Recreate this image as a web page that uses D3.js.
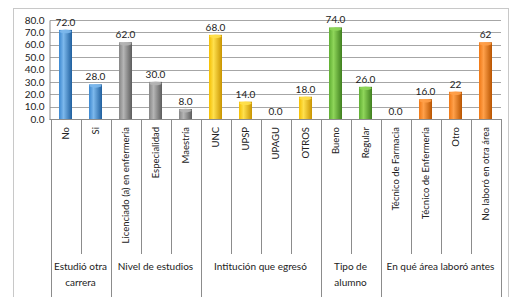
<!DOCTYPE html>
<html>
<head>
<meta charset="utf-8">
<script src="https://cdn.jsdelivr.net/npm/d3@7"></script>
<style>
  body { margin: 0; background: #fff; }
  svg { font-family: Lato, "Open Sans", sans-serif; }
</style>
</head>
<body>
<svg id="chart"></svg>
<script>
var width = 510;
var height = 297;

var categories = ["No", "Si", "Licenciado (a) en enfermería", "Especialidad", "Maestría",
  "UNC", "UPSP", "UPAGU", "OTROS", "Bueno", "Regular",
  "Técnico de Farmacia", "Técnico de Enfermería", "Otro", "No laboró en otra área"];
var values = [72, 28, 62, 30, 8, 68, 14, 0, 18, 74, 26, 0, 16, 22, 62];
var valueLabels = ["72.0", "28.0", "62.0", "30.0", "8.0", "68.0", "14.0", "0.0", "18.0",
  "74.0", "26.0", "0.0", "16.0", "22", "62"];
var groupNames = [["Estudió otra", "carrera"], ["Nivel de estudios"], ["Intitución que egresó"],
  ["Tipo de", "alumno"], ["En qué área laboró antes"]];
var groupSizes = [2, 3, 4, 2, 4];
var groupColors = [
  ["#7cb8ec", "#3b87d0", "#1f5f9e"],
  ["#b5b5b5", "#858585", "#5c5c5c"],
  ["#ffe04d", "#f5bf00", "#c99400"],
  ["#8fd65a", "#5fae32", "#3f7f1e"],
  ["#ffa04a", "#f07814", "#b85400"]
];
var yTicks = [0, 10, 20, 30, 40, 50, 60, 70, 80];

var svg = d3.select("#chart").attr("width", width).attr("height", height);

// group index per category
var groupOf = [];
groupSizes.forEach(function (n, g) {
  for (var i = 0; i < n; i++) groupOf.push(g);
});

var x = d3.scaleBand().domain(categories).range([50.5, 500.5]).padding(0);
var y = d3.scaleLinear().domain([0, 80]).range([119, 20]);

// gradients
var defs = svg.append("defs");
groupColors.forEach(function (c, g) {
  var grad = defs.append("linearGradient").attr("id", "grad" + g)
    .attr("x1", "0%").attr("x2", "100%").attr("y1", "0%").attr("y2", "0%");
  grad.append("stop").attr("offset", "0%").attr("stop-color", c[1]);
  grad.append("stop").attr("offset", "35%").attr("stop-color", c[0]);
  grad.append("stop").attr("offset", "100%").attr("stop-color", c[2]);
});

// outer border
svg.append("rect")
  .attr("x", 13.5).attr("y", 8.5)
  .attr("width", 495).attr("height", 300)
  .attr("fill", "none").attr("stroke", "#c8c8c8");

// gridlines
svg.selectAll(".grid").data(yTicks).enter().append("line")
  .attr("x1", 50).attr("x2", 501)
  .attr("y1", function (d) { return Math.round(y(d)) + 0.5; })
  .attr("y2", function (d) { return Math.round(y(d)) + 0.5; })
  .attr("stroke", "#a6a6a6").attr("stroke-width", 1);

// y axis
var yAxis = d3.axisLeft(y).tickValues(yTicks)
  .tickFormat(function (d) { return d3.format(".1f")(d); })
  .tickSize(0).tickPadding(5);
var yg = svg.append("g").attr("transform", "translate(49.5,0)").call(yAxis);
yg.select(".domain").attr("stroke", "#8c8c8c");
yg.selectAll("text").attr("font-size", 10).attr("fill", "#222")
  .attr("font-family", "Lato, sans-serif");

// x axis separators
var bounds = d3.range(categories.length + 1);
var groupEnds = [0];
groupSizes.reduce(function (acc, n) { groupEnds.push(acc + n); return acc + n; }, 0);
svg.selectAll(".sep").data(bounds).enter().append("line")
  .attr("x1", function (i) { return Math.round(x.range()[0] + i * x.step()) + 0.5; })
  .attr("x2", function (i) { return Math.round(x.range()[0] + i * x.step()) + 0.5; })
  .attr("y1", 119)
  .attr("y2", function (i) { return groupEnds.indexOf(i) >= 0 ? 297 : 254; })
  .attr("stroke", "#8c8c8c");
svg.append("line").attr("x1", 49.5).attr("x2", 501).attr("y1", 119.5).attr("y2", 119.5)
  .attr("stroke", "#8c8c8c");

// category labels
svg.selectAll(".cat").data(categories).enter().append("text")
  .attr("transform", function (d) {
    return "translate(" + (x(d) + x.bandwidth() / 2) + ",127) rotate(-90)";
  })
  .attr("text-anchor", "end").attr("dy", "0.35em")
  .attr("font-size", 9.5).attr("fill", "#222")
  .text(function (d) { return d; });

// group labels
groupNames.forEach(function (lines, g) {
  var x0 = x.range()[0] + groupEnds[g] * x.step();
  var x1 = x.range()[0] + groupEnds[g + 1] * x.step();
  lines.forEach(function (line, k) {
    svg.append("text")
      .attr("x", (x0 + x1) / 2).attr("y", 270 + k * 16)
      .attr("text-anchor", "middle").attr("font-size", 10).attr("fill", "#222")
      .text(line);
  });
});

// bars
var bw = 13;
var bars = svg.selectAll(".bar").data(values).enter().append("g");
bars.append("rect")
  .attr("x", function (d, i) { return x(categories[i]) + x.bandwidth() / 2 - bw / 2; })
  .attr("y", function (d) { return y(d); })
  .attr("width", bw)
  .attr("height", function (d) { return y(0) - y(d); })
  .attr("fill", function (d, i) { return "url(#grad" + groupOf[i] + ")"; })
  .attr("display", function (d) { return d > 0 ? null : "none"; });
bars.append("ellipse")
  .attr("cx", function (d, i) { return x(categories[i]) + x.bandwidth() / 2; })
  .attr("cy", function (d) { return y(d) + 1.5; })
  .attr("rx", bw / 2 - 0.5).attr("ry", 1.8)
  .attr("fill", function (d, i) { return groupColors[groupOf[i]][0]; })
  .attr("opacity", 0.9)
  .attr("display", function (d) { return d > 0 ? null : "none"; });

// value labels
svg.selectAll(".val").data(values).enter().append("text")
  .attr("x", function (d, i) { return x(categories[i]) + x.bandwidth() / 2; })
  .attr("y", function (d) { return y(d) - 4; })
  .attr("text-anchor", "middle").attr("font-size", 10).attr("fill", "#222")
  .text(function (d, i) { return valueLabels[i]; });
</script>
</body>
</html>
